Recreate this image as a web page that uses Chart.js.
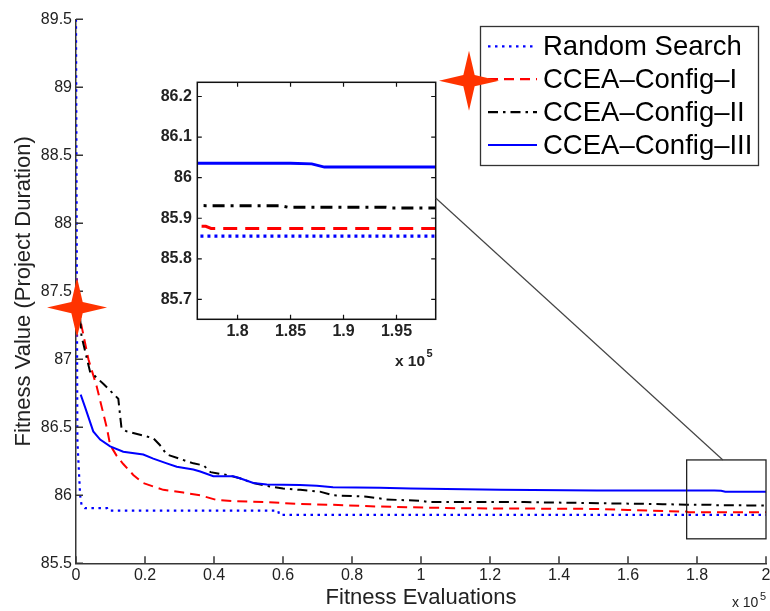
<!DOCTYPE html>
<html>
<head>
<meta charset="utf-8">
<script src="https://cdn.jsdelivr.net/npm/chart.js@4.4.0/dist/chart.umd.min.js"></script>
<style>
  html, body { margin: 0; padding: 0; background: #ffffff; }
  #wrap { position: relative; width: 770px; height: 611px; overflow: hidden; }
  #main { position: absolute; left: 0; top: 0; z-index: 2; }
  #inset { position: absolute; left: 140px; top: 70px; z-index: 1; }
</style>
</head>
<body>
<div id="wrap">
  <canvas id="inset" width="310" height="310"></canvas>
  <canvas id="main" width="770" height="611"></canvas>
</div>
<script>
// Best fitness (project duration) found so far versus fitness evaluations (x 10^5)

const seriesLabels = ['Random Search', 'CCEA\u2013Config\u2013I', 'CCEA\u2013Config\u2013II', 'CCEA\u2013Config\u2013III'];

const randomEvals   = [0, 0.004, 0.012, 0.016, 0.026, 0.09, 0.093, 0.586, 0.589, 2.0];
const randomFitness = [89.5, 86.4, 86.0, 85.93, 85.905, 85.905, 85.887, 85.887, 85.856, 85.856];

const config1Evals   = [0.012, 0.0145, 0.036, 0.06, 0.089, 0.099, 0.118, 0.137, 0.166, 0.195, 0.253, 0.311, 0.36, 0.408, 0.455, 0.553, 0.649, 0.745, 0.88, 1.1, 1.5, 1.6, 1.77, 1.775, 2.0];
const config1Fitness = [87.38, 87.265, 87.0, 86.8, 86.5, 86.37, 86.29, 86.23, 86.15, 86.09, 86.04, 86.02, 86.0, 85.965, 85.958, 85.95, 85.936, 85.93, 85.917, 85.905, 85.9, 85.892, 85.88, 85.875, 85.875];

const config2Evals   = [0.012, 0.016, 0.0406, 0.079, 0.1226, 0.132, 0.147, 0.224, 0.243, 0.263, 0.34, 0.37, 0.39, 0.437, 0.475, 0.514, 0.55, 0.6, 0.65, 0.707, 0.745, 0.843, 0.9, 0.94, 1.0, 1.02, 1.3, 1.7, 1.77, 1.84, 1.848, 1.94, 1.945, 2.0];
const config2Fitness = [87.3, 87.17, 86.91, 86.82, 86.71, 86.49, 86.47, 86.42, 86.37, 86.30, 86.235, 86.22, 86.17, 86.15, 86.125, 86.09, 86.07, 86.05, 86.04, 86.027, 86.0, 85.99, 85.97, 85.965, 85.96, 85.95, 85.95, 85.935, 85.931, 85.931, 85.927, 85.927, 85.9255, 85.9255];

const config3Evals   = [0.0136, 0.026, 0.05, 0.07, 0.099, 0.137, 0.195, 0.224, 0.263, 0.292, 0.34, 0.36, 0.398, 0.456, 0.475, 0.514, 0.553, 0.649, 0.698, 0.745, 0.88, 0.97, 1.23, 1.51, 1.85, 1.87, 1.882, 2.0];
const config3Fitness = [86.74, 86.65, 86.47, 86.41, 86.36, 86.32, 86.30, 86.27, 86.235, 86.21, 86.19, 86.175, 86.14, 86.14, 86.125, 86.09, 86.08, 86.075, 86.07, 86.06, 86.055, 86.05, 86.04, 86.036, 86.0355, 86.034, 86.026, 86.026];

const xTickValues = [0, 0.2, 0.4, 0.6, 0.8, 1, 1.2, 1.4, 1.6, 1.8, 2];
const xTickLabels = ['0', '0.2', '0.4', '0.6', '0.8', '1', '1.2', '1.4', '1.6', '1.8', '2'];
const yTickValues = [85.5, 86, 86.5, 87, 87.5, 88, 88.5, 89, 89.5];
const yTickLabels = ['85.5', '86', '86.5', '87', '87.5', '88', '88.5', '89', '89.5'];

const insetXTickValues = [1.8, 1.85, 1.9, 1.95];
const insetXTickLabels = ['1.8', '1.85', '1.9', '1.95'];
const insetYTickValues = [85.7, 85.8, 85.9, 86, 86.1, 86.2];
const insetYTickLabels = ['85.7', '85.8', '85.9', '86', '86.1', '86.2'];

// magnified window and the rectangle marking it on the main axes
const insetRange = { xMin: 1.762, xMax: 1.987, yMin: 85.651, yMax: 86.235 };
const zoomBox = { xMin: 1.77, xMax: 2.0, yMin: 85.68, yMax: 86.26 };
const zoomLinkX = 1.875;      // where the pointer line meets the rectangle
const insetLinkY = 85.95;     // where the pointer line leaves the magnified axes
const startMarker = { x: 0.003, y: 87.38 };

// ---- styling ----
const FONT = '"Liberation Sans", Arial, Helvetica, sans-serif';
const AXIS = '#363636';
const TXT = '#222222';
const STAR = '#ff3300';
const seriesStyles = [
  { color: '#0000ff', dash: [2.5, 4.5],        width: 2.2, insetDash: [3, 4],         insetWidth: 3.2 },
  { color: '#ff0000', dash: [10, 6],           width: 2,   insetDash: [14, 8],        insetWidth: 3 },
  { color: '#000000', dash: [10, 5, 2.5, 5],   width: 2,   insetDash: [12, 6, 3, 6],  insetWidth: 3 },
  { color: '#0000ff', dash: [],                width: 2,   insetDash: [],             insetWidth: 3 }
];

Chart.defaults.font.family = FONT;

function toPoints(xs, ys) { return xs.map((x, i) => ({ x: x, y: ys[i] })); }
const seriesData = [
  toPoints(randomEvals, randomFitness),
  toPoints(config1Evals, config1Fitness),
  toPoints(config2Evals, config2Fitness),
  toPoints(config3Evals, config3Fitness)
];

function makeDatasets(inset) {
  return seriesLabels.map((label, i) => ({
    label: label,
    data: seriesData[i],
    borderColor: seriesStyles[i].color,
    backgroundColor: seriesStyles[i].color,
    borderDash: inset ? seriesStyles[i].insetDash : seriesStyles[i].dash,
    borderWidth: inset ? seriesStyles[i].insetWidth : seriesStyles[i].width,
    borderCapStyle: 'butt',
    borderJoinStyle: 'miter',
    pointRadius: 0,
    fill: false,
    tension: 0,
    order: seriesLabels.length - i
  }));
}

// fixed axis box: no extra room reserved for overhanging tick labels
function fixSize(prop, size) {
  return function (s) {
    s[prop] = size;
    s.paddingLeft = 0; s.paddingRight = 0; s.paddingTop = 0; s.paddingBottom = 0;
  };
}

function drawStar(ctx, cx, cy, R, r) {
  ctx.save();
  ctx.fillStyle = STAR;
  ctx.beginPath();
  for (let k = 0; k < 8; k++) {
    const ang = -Math.PI / 2 + k * Math.PI / 4;
    const rad = (k % 2 === 0) ? R : r;
    const px = cx + rad * Math.cos(ang), py = cy + rad * Math.sin(ang);
    if (k === 0) ctx.moveTo(px, py); else ctx.lineTo(px, py);
  }
  ctx.closePath();
  ctx.fill();
  ctx.restore();
}

function drawPower(ctx, rightX, baseY, baseFont, supFont, supLift) {
  ctx.save();
  ctx.fillStyle = TXT;
  ctx.textBaseline = 'alphabetic';
  ctx.font = supFont;
  const supW = ctx.measureText('5').width;
  ctx.textAlign = 'left';
  ctx.fillText('5', rightX - supW, baseY - supLift);
  ctx.font = baseFont;
  ctx.textAlign = 'right';
  ctx.fillText('x 10', rightX - supW - 1.5, baseY);
  ctx.restore();
}

// ---- magnified axes ----
const insetDecor = {
  id: 'insetDecor',
  beforeDraw(chart) {
    const { ctx, chartArea: a } = chart;
    ctx.save();
    ctx.fillStyle = '#ffffff';
    ctx.fillRect(a.left, a.top, a.right - a.left, a.bottom - a.top);
    ctx.restore();
  },
  afterDraw(chart) {
    const { ctx, chartArea: a, scales: { x, y } } = chart;
    ctx.save();
    ctx.strokeStyle = '#111111';
    ctx.lineWidth = 1.5;
    ctx.strokeRect(a.left, a.top, a.right - a.left, a.bottom - a.top);
    ctx.lineWidth = 1.2;
    ctx.beginPath();
    const tl = 4.5;
    x.ticks.forEach(t => {
      const px = x.getPixelForValue(t.value);
      ctx.moveTo(px, a.bottom); ctx.lineTo(px, a.bottom - tl);
      ctx.moveTo(px, a.top); ctx.lineTo(px, a.top + tl);
    });
    y.ticks.forEach(t => {
      const py = y.getPixelForValue(t.value);
      ctx.moveTo(a.left, py); ctx.lineTo(a.left + tl, py);
      ctx.moveTo(a.right, py); ctx.lineTo(a.right - tl, py);
    });
    ctx.stroke();
    ctx.restore();
    drawPower(ctx, a.right - 3, a.bottom + 46.7, 'bold 15.5px ' + FONT, 'bold 11px ' + FONT, 9);
  }
};

const insetCanvas = document.getElementById('inset');
const insetChart = new Chart(insetCanvas, {
  type: 'line',
  data: { datasets: makeDatasets(true) },
  options: {
    responsive: false,
    animation: false,
    events: [],
    layout: { padding: { left: 0, right: 14.3, top: 12.3, bottom: 0 } },
    plugins: { legend: { display: false }, tooltip: { enabled: false } },
    scales: {
      x: {
        type: 'linear', min: insetRange.xMin, max: insetRange.xMax,
        afterFit: fixSize('height', 60.7),
        afterBuildTicks(s) { s.ticks = insetXTickValues.map(v => ({ value: v })); },
        grid: { display: false, drawTicks: false },
        border: { display: false },
        ticks: { autoSkip: false, maxRotation: 0, padding: 3, color: TXT,
                 font: { size: 16, weight: 'bold' }, callback: (v, i) => insetXTickLabels[i] }
      },
      y: {
        type: 'linear', min: insetRange.yMin, max: insetRange.yMax,
        afterFit: fixSize('width', 57.3),
        afterBuildTicks(s) { s.ticks = insetYTickValues.map(v => ({ value: v })); },
        grid: { display: false, drawTicks: false },
        border: { display: false },
        ticks: { autoSkip: false, padding: 5.5, color: TXT,
                 font: { size: 16, weight: 'bold' }, callback: (v, i) => insetYTickLabels[i] }
      }
    }
  },
  plugins: [insetDecor]
});

// ---- main axes ----
const legendBox = { left: 480.5, top: 26.5, width: 278, height: 139, rowTop: 46.3, rowStep: 32.9,
                    sampleLeft: 488, sampleRight: 537, textLeft: 543 };

const mainDecor = {
  id: 'mainDecor',
  afterDraw(chart) {
    const { ctx, chartArea: a, scales: { x, y } } = chart;

    // inward tick marks
    ctx.save();
    ctx.strokeStyle = AXIS;
    ctx.lineWidth = 1.5;
    ctx.beginPath();
    x.ticks.forEach(t => {
      const px = x.getPixelForValue(t.value);
      ctx.moveTo(px, a.bottom); ctx.lineTo(px, a.bottom - 7);
    });
    y.ticks.forEach(t => {
      const py = y.getPixelForValue(t.value);
      ctx.moveTo(a.left, py); ctx.lineTo(a.left + 7, py);
    });
    ctx.stroke();
    ctx.restore();

    // rectangle of the magnified window and its pointer line
    const bx0 = x.getPixelForValue(zoomBox.xMin), bx1 = x.getPixelForValue(zoomBox.xMax);
    const by0 = y.getPixelForValue(zoomBox.yMax), by1 = y.getPixelForValue(zoomBox.yMin);
    ctx.save();
    ctx.strokeStyle = '#222222';
    ctx.lineWidth = 1.3;
    ctx.strokeRect(bx0, by0, bx1 - bx0, by1 - by0);
    const ia = insetChart.chartArea;
    const sx = insetCanvas.offsetLeft + ia.right;
    const sy = insetCanvas.offsetTop + insetChart.scales.y.getPixelForValue(insetLinkY);
    ctx.strokeStyle = '#444444';
    ctx.lineWidth = 1.2;
    ctx.beginPath();
    ctx.moveTo(sx, sy);
    ctx.lineTo(x.getPixelForValue(zoomLinkX), by0);
    ctx.stroke();
    ctx.restore();

    // legend
    const L = legendBox;
    ctx.save();
    ctx.fillStyle = '#ffffff';
    ctx.fillRect(L.left, L.top, L.width, L.height);
    ctx.strokeStyle = '#333333';
    ctx.lineWidth = 1.3;
    ctx.strokeRect(L.left, L.top, L.width, L.height);
    chart.data.datasets.forEach((ds, i) => {
      const ry = L.rowTop + i * L.rowStep;
      ctx.strokeStyle = ds.borderColor;
      ctx.lineWidth = 2.2;
      ctx.setLineDash(ds.borderDash || []);
      ctx.beginPath();
      ctx.moveTo(L.sampleLeft, ry);
      ctx.lineTo(L.sampleRight, ry);
      ctx.stroke();
      ctx.setLineDash([]);
      ctx.fillStyle = '#000000';
      ctx.font = '27.5px ' + FONT;
      ctx.textAlign = 'left';
      ctx.textBaseline = 'middle';
      ctx.fillText(ds.label, L.textLeft, ry + 1);
    });
    ctx.restore();

    // highlight markers
    drawStar(ctx, L.left - 11.5, L.rowTop + L.rowStep + 1.5, 30, 8);
    drawStar(ctx, x.getPixelForValue(startMarker.x), y.getPixelForValue(startMarker.y), 30, 8);

    // exponent of the evaluation axis
    drawPower(ctx, a.right, 606.5, '14px ' + FONT, '11px ' + FONT, 6.5);
  }
};

const mainChart = new Chart(document.getElementById('main'), {
  type: 'line',
  data: { datasets: makeDatasets(false) },
  options: {
    responsive: false,
    animation: false,
    events: [],
    layout: { padding: { left: 0, right: 4, top: 19.3, bottom: 0 } },
    plugins: { legend: { display: false }, tooltip: { enabled: false } },
    scales: {
      x: {
        type: 'linear', min: 0, max: 2,
        afterFit: fixSize('height', 47.7),
        afterBuildTicks(s) { s.ticks = xTickValues.map(v => ({ value: v })); },
        grid: { display: false, drawTicks: false },
        border: { display: true, color: AXIS, width: 1.5 },
        ticks: { autoSkip: false, maxRotation: 0, padding: 3, color: TXT,
                 font: { size: 16 }, callback: (v, i) => xTickLabels[i] },
        title: { display: true, text: 'Fitness Evaluations', color: TXT,
                 font: { size: 22 }, padding: { top: 0, bottom: 0 } }
      },
      y: {
        type: 'linear', min: 85.5, max: 89.5,
        afterFit: fixSize('width', 76),
        afterBuildTicks(s) { s.ticks = yTickValues.map(v => ({ value: v })); },
        grid: { display: false, drawTicks: false },
        border: { display: true, color: AXIS, width: 1.5 },
        ticks: { autoSkip: false, padding: 4, color: TXT,
                 font: { size: 16 }, callback: (v, i) => yTickLabels[i] },
        title: { display: true, text: 'Fitness Value (Project Duration)', color: TXT,
                 font: { size: 22 }, padding: { top: 10.6, bottom: 0 } }
      }
    }
  },
  plugins: [mainDecor]
});
</script>
</body>
</html>
